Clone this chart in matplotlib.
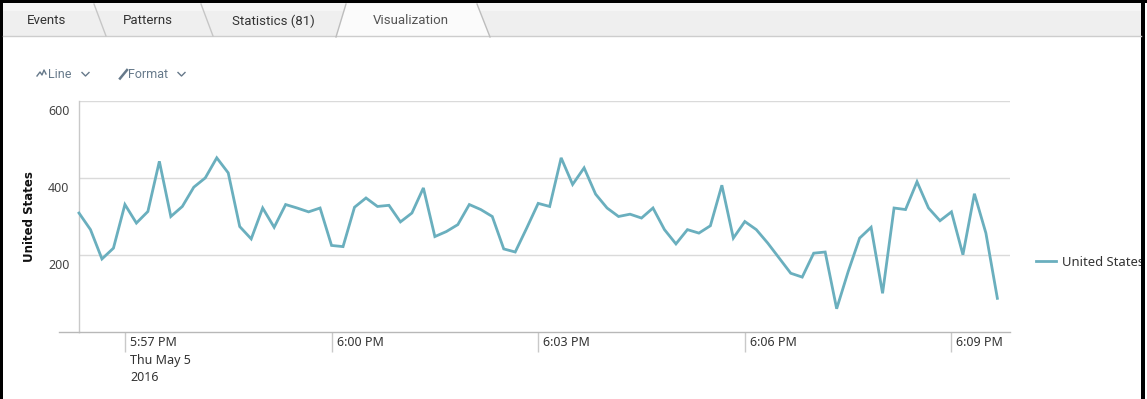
import matplotlib
matplotlib.use("Agg")
import matplotlib.pyplot as plt
import matplotlib.dates as mdates
import matplotlib.transforms as mtrans
import pandas as pd
from matplotlib.patches import Rectangle, Polygon

W, H, DPI = 1147, 399, 100

# ---- data -------------------------------------------------------------
series_name = "United States"
start_time = "2016-05-05 17:56:20"
interval = "10s"
counts = [309, 266, 190, 218, 331, 283, 313, 443, 300, 326, 376, 400,
          452, 413, 274, 242, 322, 272, 331, 322, 312, 322, 225, 222,
          324, 348, 326, 329, 286, 309, 374, 248, 261, 279, 331, 318,
          300, 216, 208, 270, 334, 326, 452, 383, 426, 358, 322, 300,
          306, 296, 322, 266, 229, 266, 257, 276, 381, 244, 287, 266,
          231, 192, 153, 143, 205, 208, 61, 157, 244, 272, 101, 322,
          318, 390, 322, 289, 312, 201, 359, 257, 88]
tick_times = ["2016-05-05 17:57", "2016-05-05 18:00", "2016-05-05 18:03",
              "2016-05-05 18:06", "2016-05-05 18:09"]
tick_labels = ["5:57 PM\nThu May 5\n2016", "6:00 PM", "6:03 PM", "6:06 PM", "6:09 PM"]
y_ticks = [200, 400, 600]
tabs = ["Events", "Patterns", "Statistics (81)", "Visualization"]

times = pd.date_range(start=start_time, periods=len(counts), freq=interval)

plt.rcParams["font.family"] = ["Noto Sans", "DejaVu Sans"]

fig = plt.figure(figsize=(W / DPI, H / DPI), dpi=DPI)
fig.patch.set_facecolor("white")


def fx(px):
    return px / W


def fy(py):
    return 1 - py / H


# ---- chart axes -------------------------------------------------------
left, right, top, bottom = 79, 1010, 100.7, 332.3
ax = fig.add_axes([fx(left), fy(bottom), fx(right - left), (bottom - top) / H])
line_color = "#6aafbe"
ax.plot(times, counts, color=line_color, lw=2.0, solid_joinstyle="miter",
        label=series_name, clip_on=False, zorder=3)

t0 = mdates.date2num(times[0])
ax.set_xlim(t0, t0 + 811 / 86400)
ax.set_ylim(0, 600)

for s in ["top", "right"]:
    ax.spines[s].set_visible(False)
ax.spines["left"].set_color("#c9c9c9")
ax.spines["bottom"].set_color("#b8b8b8")
ax.spines["left"].set_linewidth(1)
ax.spines["bottom"].set_linewidth(1)

ax.set_yticks(y_ticks)
ax.yaxis.grid(True, color="#dadada", lw=1)
ax.tick_params(axis="y", length=0, labelsize=9, labelcolor="#444444", pad=7)
# y labels sit just below their gridlines
offset = mtrans.ScaledTranslation(0, -4 / DPI, fig.dpi_scale_trans)
for lab in ax.get_yticklabels():
    lab.set_verticalalignment("top")
    lab.set_transform(lab.get_transform() + offset)

tick_nums = [mdates.date2num(pd.Timestamp(t)) for t in tick_times]
ax.set_xticks(tick_nums)
ax.set_xticklabels([])
ax.tick_params(axis="x", length=20 * 0.72, width=1, color="#c9c9c9", direction="out")
for tn, lab in zip(tick_nums, tick_labels):
    ax.annotate(lab, xy=(tn, 0), xycoords=("data", "axes fraction"),
                xytext=(5, -4), textcoords="offset pixels", ha="left", va="top",
                fontsize=9, color="#333333", linespacing=1.45)

# extend the baseline a little to the left of the y axis
ax.plot([-20 / (right - left), 0], [0, 0], transform=ax.transAxes,
        color="#b8b8b8", lw=1, clip_on=False)

ax.set_ylabel(series_name, fontsize=8.5, fontweight="bold", color="#111111",
              family="DejaVu Sans")
ax.yaxis.set_label_coords(-(79 - 36) / (right - left), 0.5)

leg = ax.legend(loc="center left",
                bbox_to_anchor=((1036 - left) / (right - left), (bottom - 262) / (bottom - top)),
                frameon=False, handlelength=1.5, handletextpad=0.5, borderaxespad=0,
                borderpad=0, fontsize=9.4)
for t in leg.get_texts():
    t.set_color("#333333")

# ---- page chrome (tabs, menus, frame) ---------------------------------
ov = fig.add_axes([0, 0, 1, 1], zorder=10)
ov.set_xlim(0, W)
ov.set_ylim(H, 0)
ov.axis("off")
ov.patch.set_alpha(0)

ov.add_patch(Rectangle((3, 3), 1138, 33, facecolor="#efefef", edgecolor="none"))
ov.add_patch(Rectangle((3, 3), 1138, 8, facecolor="#f5f5f5", edgecolor="none"))
ov.plot([3, 1141], [36, 36], color="#cdcdcd", lw=1)
ov.add_patch(Polygon([(336, 37), (346, 4), (477, 4), (490, 37)], closed=True,
                     facecolor="#fbfbfb", edgecolor="none"))
ov.plot([336, 346], [37, 4], color="#bdbdbd", lw=1)
ov.plot([477, 490], [4, 37], color="#bdbdbd", lw=1)
ov.plot([94, 106], [4, 36], color="#c6c6c6", lw=1)
ov.plot([201, 213], [4, 36], color="#c6c6c6", lw=1)

tab_x = [47, 148, 273, 411]
for name, x in zip(tabs, tab_x):
    ov.text(x, 21, name, ha="center", va="center", fontsize=9.5,
            family="Roboto", color="#555555" if name == "Visualization" else "#333333")

menu_color = "#66798a"
# line-chart icon
ov.plot([37, 40, 42, 44, 46], [76, 72, 75, 70, 74], color=menu_color, lw=1)
ov.text(48, 74, "Line", ha="left", va="center", fontsize=9, family="Roboto", color=menu_color)
ov.plot([82, 85.5, 89], [72.5, 76, 72.5], color=menu_color, lw=1)
# pencil icon
ov.plot([120, 127], [78.5, 70], color=menu_color, lw=1.8)
ov.text(128, 74, "Format", ha="left", va="center", fontsize=9, family="Roboto", color=menu_color)
ov.plot([178, 181.5, 185], [72.5, 76, 72.5], color=menu_color, lw=1)

# outer frame
ov.add_patch(Rectangle((1141, 0), 6, H, facecolor="white", edgecolor="none"))
ov.add_patch(Rectangle((0, 0), 3, H, facecolor="black", edgecolor="none"))
ov.add_patch(Rectangle((0, 0), W, 2.5, facecolor="black", edgecolor="none"))
ov.add_patch(Rectangle((1141, 0), 3.5, H, facecolor="black", edgecolor="none"))

fig.savefig("out.png", dpi=DPI, facecolor="white")
